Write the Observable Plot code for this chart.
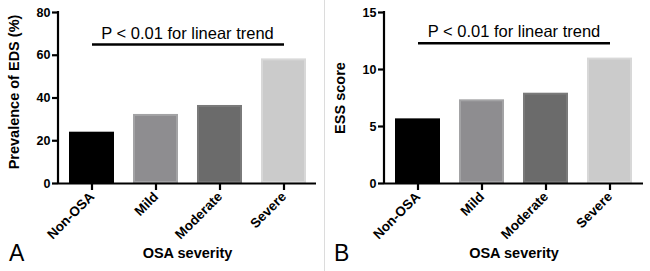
<!DOCTYPE html>
<html>
<head>
<meta charset="utf-8">
<script src="https://cdn.jsdelivr.net/npm/d3@7"></script>
<script src="https://cdn.jsdelivr.net/npm/@observablehq/plot@0.6"></script>
<style>
  html, body { margin: 0; padding: 0; background: #fff; }
  #wrap { position: relative; width: 650px; height: 271px; overflow: hidden; font-family: "Liberation Sans", Arial, sans-serif; }
  .panel { position: absolute; top: 0; width: 325px; height: 271px; }
  .letter { position: absolute; font-size: 23px; font-family: "Liberation Sans", Arial, sans-serif; color: #000; line-height: 1; }
  #sep { position: absolute; left: 324px; top: 0; width: 1px; height: 271px; background: #dcdcdc; }
</style>
</head>
<body>
<div id="wrap">
  <div class="panel" id="panelA" style="left:0"></div>
  <div class="panel" id="panelB" style="left:325px"></div>
  <div id="sep"></div>
  <div class="letter" style="left:9px; top:242px">A</div>
  <div class="letter" style="left:334px; top:242px">B</div>
</div>
<script>
const categories = ["Non-OSA", "Mild", "Moderate", "Severe"];
const edsPrevalence = [24, 32.3, 36.5, 58.3];
const essScore = [5.67, 7.34, 7.92, 11.0];
const barFills = ["#000000", "#8e8d90", "#6b6b6b", "#cbcbcb"];
const barStrokes = ["#000000", "#a3a3a5", "#7a7a7a", "#d8d8d8"];
const ticksA = [0, 20, 40, 60, 80];
const ticksB = [0, 5, 10, 15];
const trendText = "P < 0.01 for linear trend";
const trendA = 65;
const trendB = 12.3;
const labelA = "Prevalence of EDS (%)";
const labelB = "ESS score";
const xLabel = "OSA severity";

// y-axis domain line drawn from the library's y scale
function yAxisLine(index, scales, values, dimensions) {
  const [y0, y1] = scales.scales.y.domain;
  const x = dimensions.marginLeft;
  const line = document.createElementNS("http://www.w3.org/2000/svg", "line");
  line.setAttribute("x1", x);
  line.setAttribute("x2", x);
  line.setAttribute("y1", scales.y(y0) + 1);
  line.setAttribute("y2", scales.y(y1) - 1);
  line.setAttribute("stroke", "#000");
  line.setAttribute("stroke-width", 2.2);
  return line;
}

function makePanel(values, yMax, ticks, trendY, yLabel, mLeft, mRight, labelDy) {
  const rows = categories.map((c, i) => ({cat: c, v: values[i], fill: barFills[i], stroke: barStrokes[i]}));
  const font = "Liberation Sans, Arial, sans-serif";
  return Plot.plot({
    width: 325,
    height: 271,
    marginLeft: mLeft,
    marginRight: mRight,
    marginTop: 12,
    marginBottom: 88,
    style: {fontFamily: font, background: "transparent"},
    x: {domain: categories, paddingInner: 0.3, paddingOuter: 0.15, label: null},
    y: {domain: [0, yMax], label: null},
    marks: [
      Plot.barY(rows, {x: "cat", y: "v", fill: "fill", stroke: "stroke", strokeWidth: 2, inset: 1}),
      yAxisLine,
      Plot.axisY({ticks: ticks, tickSize: 6, tickPadding: 2, strokeWidth: 2.2, stroke: "#000", fill: "#000", fontSize: 12.5, fontWeight: "bold", label: null}),
      Plot.axisX({tickSize: 7, tickPadding: 4, tickRotate: -45, strokeWidth: 2.2, stroke: "#000", fill: "#000", fontSize: 13.5, fontWeight: "bold", label: null}),
      Plot.ruleY([0], {stroke: "#000", strokeWidth: 2.2}),
      Plot.link([{a: categories[0], b: categories[categories.length - 1], y: trendY}], {x1: "a", x2: "b", y1: "y", y2: "y", stroke: "#000", strokeWidth: 2.5}),
      Plot.text([trendText], {y: [trendY], text: d => d, frameAnchor: "middle", lineAnchor: "bottom", dy: -6, fontSize: 16.5, fill: "#000"}),
      Plot.text([yLabel], {text: d => d, frameAnchor: "left", textAnchor: "middle", rotate: -90, dx: -44, dy: labelDy, fontSize: 14.5, fontWeight: "bold", fill: "#000"}),
      Plot.text([xLabel], {text: d => d, frameAnchor: "bottom", dy: 74, fontSize: 14.5, fontWeight: "bold", fill: "#000"})
    ]
  });
}

document.getElementById("panelA").append(makePanel(edsPrevalence, 80, ticksA, trendA, labelA, 58, 9, -6));
document.getElementById("panelB").append(makePanel(essScore, 15, ticksB, trendB, labelB, 59, 7, 0));
</script>
</body>
</html>
